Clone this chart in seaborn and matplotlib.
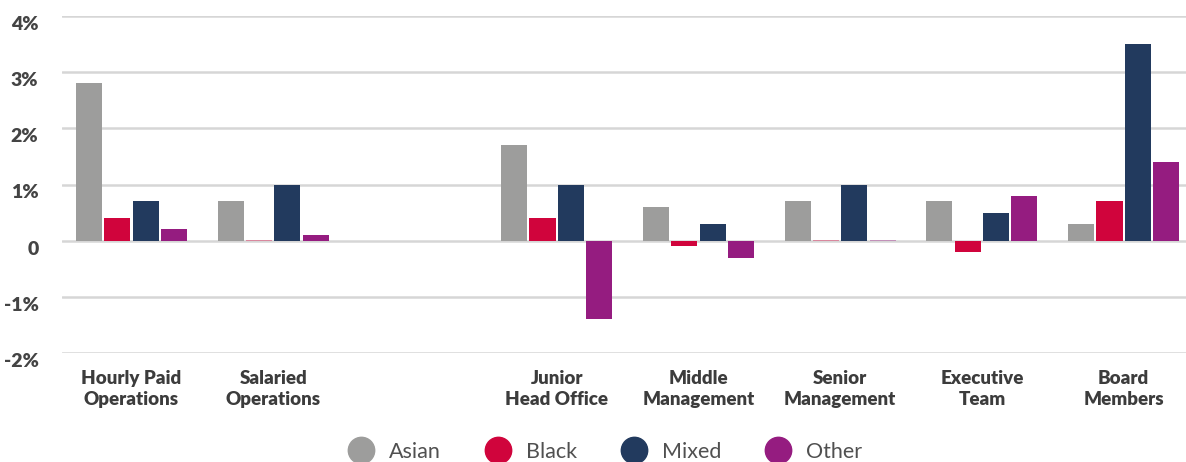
import pandas as pd
import seaborn as sns
import matplotlib.pyplot as plt
from matplotlib.lines import Line2D

# ─────────────────────────────────────────
# DATA (difference in representation, %)
# ─────────────────────────────────────────
categories = ["Hourly Paid\nOperations", "Salaried\nOperations", " ",
              "Junior\nHead Office", "Middle\nManagement", "Senior\nManagement",
              "Executive\nTeam", "Board\nMembers"]
groups = ["Asian", "Black", "Mixed", "Other"]

cats_with_data = [c for c in categories if c.strip()]
asian = [2.8, 0.7, 1.7, 0.6, 0.7, 0.7, 0.3]
black = [0.4, 0.0, 0.4, -0.1, 0.0, -0.2, 0.7]
mixed = [0.7, 1.0, 1.0, 0.3, 1.0, 0.5, 3.5]
other = [0.2, 0.1, -1.4, -0.3, 0.0, 0.8, 1.4]

yticks = [-2, -1, 0, 1, 2, 3, 4]
ytick_labels = ["-2%", "-1%", "0", "1%", "2%", "3%", "4%"]

colors = ["#9d9d9c", "#d0043c", "#223a5e", "#951c80"]

rows = []
for g, vals in zip(groups, [asian, black, mixed, other]):
    for c, v in zip(cats_with_data, vals):
        rows.append({"category": c, "group": g, "value": v})
df = pd.DataFrame(rows)

# ─────────────────────────────────────────
# PLOT
# ─────────────────────────────────────────
sns.set_style("white")
plt.rcParams["font.family"] = ["Lato", "DejaVu Sans"]

fig = plt.figure(figsize=(11.86, 4.62), dpi=100)
ax = fig.add_axes([62 / 1186, 1 - 353 / 462, 1 - 62 / 1186, (353 - 16) / 462])

sns.barplot(data=df, x="category", y="value", hue="group", order=categories,
            hue_order=groups, palette=colors, width=0.8, gap=0.08,
            saturation=1, errorbar=None, legend=False, ax=ax,
            edgecolor="none", zorder=3)

# zero-height bars show as a faint hairline in the original
for patch in ax.patches:
    if abs(patch.get_height()) < 1e-9:
        patch.set_height(0.02)
        patch.set_alpha(0.4)

ax.set_ylim(-2, 4)
ax.set_xlim(-0.49, 7.44)
ax.set_yticks(yticks)
ax.set_yticklabels(ytick_labels, fontsize=14, fontweight="heavy", color="#444444")
for lab in ax.get_yticklabels():
    lab.set_verticalalignment("top")
ax.tick_params(axis="y", length=0, pad=17)
ax.tick_params(axis="x", length=0, pad=12)
ax.set_xticks(range(len(categories)))
ax.set_xticklabels(categories, fontsize=13.5, fontweight="heavy", color="#3c3c3c",
                   linespacing=1.3)
ax.set_xlabel("")
ax.set_ylabel("")

ax.grid(axis="y", color="#d6d6d6", linewidth=1.8, zorder=0)
ax.set_axisbelow(True)
sns.despine(ax=ax, left=True, bottom=True)

handles = [Line2D([0], [0], marker="o", linestyle="none", markersize=19,
                  markerfacecolor=c, markeredgecolor=c) for c in colors]
fig.legend(handles, groups, loc="center", bbox_to_anchor=(601 / 1186, 1 - 452 / 462),
           ncol=4, frameon=False, handletextpad=0.3, columnspacing=1.65,
           prop={"size": 15.5, "weight": "normal"}, labelcolor="#505050")

plt.savefig("out.png", dpi=100)
